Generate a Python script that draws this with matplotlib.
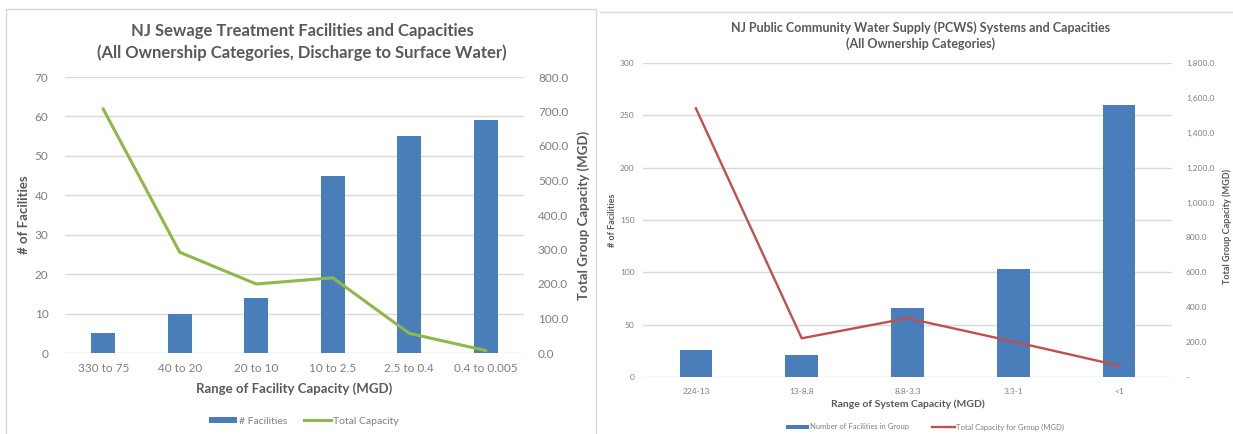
import matplotlib
matplotlib.use("Agg")
import matplotlib.pyplot as plt
from matplotlib.patches import Rectangle, Patch
from matplotlib.lines import Line2D
from matplotlib.ticker import FuncFormatter

# ---------------- data ----------------
sew_categories = ["330 to 75", "40 to 20", "20 to 10", "10 to 2.5", "2.5 to 0.4", "0.4 to 0.005"]
sew_facilities = [5, 10, 14, 45, 55, 59]
sew_capacity = [707, 292, 200, 218, 57, 7]

pcws_categories = ["224-13", "13-8.8", "8.8-3.3", "3.3-1", "<1"]
pcws_facilities = [26, 21, 66, 103, 260]
pcws_capacity = [1540, 222, 337, 203, 65]

W, H = 1233, 434
plt.rcParams['font.family'] = ['Lato', 'DejaVu Sans']

fig = plt.figure(figsize=(W / 100, H / 100), dpi=100)
fig.patch.set_facecolor("white")

BLUE = "#4a7ebb"
GREEN = "#8fb84a"
RED = "#c0504d"
GRID = "#d9d9d9"
TXT = "#595959"
TICK = "#7f7f7f"


def px_axes(x0, y0, x1, y1):
    return fig.add_axes([x0 / W, 1 - y1 / H, (x1 - x0) / W, (y1 - y0) / H])


def style(ax):
    for s in ax.spines.values():
        s.set_visible(False)
    ax.tick_params(length=0)


# panel frames
fig.patches.append(Rectangle((6 / W, -0.02), 590 / W, 1.02 - 9 / H, transform=fig.transFigure,
                             fill=False, edgecolor="#d9d9d9", lw=1))
fig.lines.append(Line2D([600 / W, 1.0], [1 - 12 / H, 1 - 12 / H], transform=fig.transFigure,
                        color="#d9d9d9", lw=1))

# ---------------- left chart ----------------
L1, R1 = 65, 524
ax1 = px_axes(L1, 77, R1, 353)
x1 = list(range(len(sew_categories)))
ax1.bar(x1, sew_facilities, width=0.31, color=BLUE, zorder=3)
ax1.set_xlim(-0.5, len(sew_categories) - 0.5)
ax1.set_ylim(0, 70)
ax1.set_yticks(range(0, 71, 10))
ax1.set_xticks(x1)
ax1.set_xticklabels(sew_categories)
ax1.yaxis.grid(True, color=GRID, lw=1, zorder=0)
ax1.set_axisbelow(True)
style(ax1)
ax1.tick_params(axis="both", colors=TICK, labelsize=8.5, pad=7)
ax1.tick_params(axis="y", pad=12)
ax1.set_ylabel("# of Facilities", fontsize=9.5, fontweight="bold", color=TXT)
ax1.yaxis.set_label_coords((30 - L1) / (R1 - L1), 0.5)
ax1.set_xlabel("Range of Facility Capacity (MGD)", fontsize=9.5, fontweight="bold", color=TXT, labelpad=6)

ax1r = ax1.twinx()
ax1r.plot(x1, sew_capacity, color=GREEN, lw=2.2, zorder=4)
ax1r.set_ylim(0, 800)
ax1r.set_yticks(range(0, 801, 100))
ax1r.yaxis.set_major_formatter(FuncFormatter(lambda v, p: f"{v:.1f}"))
style(ax1r)
ax1r.tick_params(axis="y", colors=TICK, labelsize=8.5, pad=10)
ax1r.set_ylabel("Total Group Capacity (MGD)", fontsize=9.5, fontweight="bold", color=TXT)
ax1r.yaxis.set_label_coords((577 - L1) / (R1 - L1), 0.5)

fig.text(302 / W, 1 - 31 / H, "NJ Sewage Treatment Facilities and Capacities", ha="center", va="center",
         fontsize=12, fontweight="bold", color=TXT)
fig.text(302 / W, 1 - 53 / H, "(All Ownership Categories, Discharge to Surface Water)", ha="center",
         va="center", fontsize=12, fontweight="bold", color=TXT)

h1 = [Patch(facecolor=BLUE), Line2D([0], [0], color=GREEN, lw=2.2)]
fig.legend(h1, ["# Facilities", "Total Capacity"], loc="center", bbox_to_anchor=(304 / W, 1 - 421 / H),
           ncol=2, frameon=False, fontsize=7.5, labelcolor=TICK, handlelength=2.6, handleheight=0.55,
           handletextpad=0.2, columnspacing=1.6)

# ---------------- right chart ----------------
L2, R2 = 643, 1172
ax2 = px_axes(L2, 63, R2, 377)
x2 = list(range(len(pcws_categories)))
ax2.bar(x2, pcws_facilities, width=0.31, color=BLUE, zorder=3)
ax2.set_xlim(-0.5, len(pcws_categories) - 0.5)
ax2.set_ylim(0, 300)
ax2.set_yticks(range(0, 301, 50))
ax2.set_xticks(x2)
ax2.set_xticklabels(pcws_categories)
ax2.yaxis.grid(True, color=GRID, lw=1, zorder=0)
ax2.set_axisbelow(True)
style(ax2)
ax2.tick_params(axis="both", colors=TICK, labelsize=6, pad=8)
ax2.tick_params(axis="y", pad=6)
ax2.set_ylabel("# of Facilities", fontsize=6.5, fontweight="bold", color=TXT)
ax2.yaxis.set_label_coords((617 - L2) / (R2 - L2), 0.5)
ax2.set_xlabel("Range of System Capacity (MGD)", fontsize=7.5, fontweight="bold", color=TXT, labelpad=3)


def acct(v, p):
    if abs(v) < 1e-9:
        return "-"
    return f"{v:,.1f}"


ax2r = ax2.twinx()
ax2r.plot(x2, pcws_capacity, color=RED, lw=1.7, zorder=4)
ax2r.set_ylim(0, 1800)
ax2r.set_yticks(range(0, 1801, 200))
ax2r.yaxis.set_major_formatter(FuncFormatter(acct))
style(ax2r)
ax2r.tick_params(axis="y", colors=TICK, labelsize=6, pad=10)
ax2r.set_ylabel("Total Group Capacity (MGD)", fontsize=6.5, fontweight="bold", color=TXT)
ax2r.yaxis.set_label_coords((1222 - L2) / (R2 - L2), 0.48)

fig.text(921 / W, 1 - 28 / H, "NJ Public Community Water Supply (PCWS) Systems and Capacities", ha="center",
         va="center", fontsize=9, fontweight="bold", color=TXT)
fig.text(921 / W, 1 - 44 / H, "(All Ownership Categories)", ha="center", va="center", fontsize=9,
         fontweight="bold", color=TXT)

h2 = [Patch(facecolor=BLUE), Line2D([0], [0], color=RED, lw=1.7)]
fig.legend(h2, ["Number of Facilities in Group", "Total Capacity for Group (MGD)"], loc="center",
           bbox_to_anchor=(925 / W, 1 - 427 / H), ncol=2, frameon=False, fontsize=5.5, labelcolor=TICK,
           handlelength=3.0, handleheight=0.5, handletextpad=0.2, columnspacing=3)

fig.savefig("out.png", dpi=100)
